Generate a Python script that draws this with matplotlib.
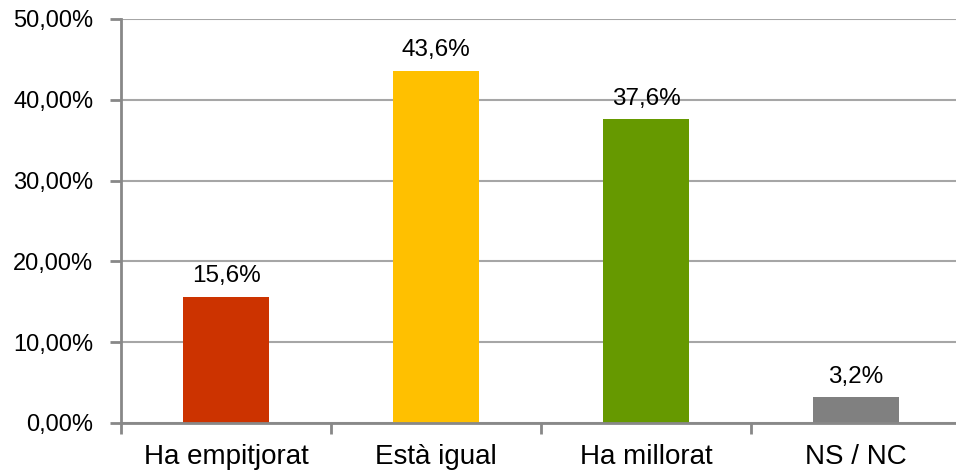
import matplotlib.pyplot as plt
from matplotlib.ticker import FuncFormatter, FixedLocator

categories = ['Ha empitjorat', 'Està igual', 'Ha millorat', 'NS / NC']
values = [15.6, 43.6, 37.6, 3.2]
colors = ['#CC3300', '#FFC000', '#669900', '#808080']
yticks = [0, 10, 20, 30, 40, 50]

fig = plt.figure(figsize=(9.56, 4.72), dpi=100)
ax = fig.add_axes([121 / 956, 49 / 472, 840 / 956, 404 / 472])

x = list(range(len(categories)))
bars = ax.bar(x, values, width=0.405, color=colors, zorder=3)

for xi, v in zip(x, values):
    ax.annotate(f'{v:.1f}%'.replace('.', ','), (xi, v), xytext=(0, 10.5),
                textcoords='offset points', ha='center', va='baseline',
                fontsize=17.5, family='Liberation Sans', zorder=4)

ax.set_xlim(-0.5, len(categories) - 0.5)
ax.set_ylim(0, 50)
ax.set_yticks(yticks)
ax.yaxis.set_major_formatter(FuncFormatter(lambda v, p: f'{v:.2f}%'.replace('.', ',')))
ax.grid(axis='y', color='#A6A6A6', linewidth=1.5, zorder=0)

ax.set_xticks(x)
ax.set_xticklabels(categories, fontsize=20, family='Liberation Sans')
ax.xaxis.set_minor_locator(FixedLocator([i - 0.5 for i in range(len(categories) + 1)]))
ax.tick_params(axis='x', which='major', length=0, pad=15)
ax.tick_params(axis='x', which='minor', length=8, width=2, color='#888888', direction='out')
ax.tick_params(axis='y', length=8, width=2, color='#888888', pad=12)
for lbl in ax.get_yticklabels():
    lbl.set_family('Liberation Sans')
    lbl.set_fontsize(17)

for s in ['top', 'right']:
    ax.spines[s].set_visible(False)
for s in ['left', 'bottom']:
    ax.spines[s].set_color('#888888')
    ax.spines[s].set_linewidth(2)
ax.spines['bottom'].set_zorder(5)

fig.savefig('out.png', dpi=100)
